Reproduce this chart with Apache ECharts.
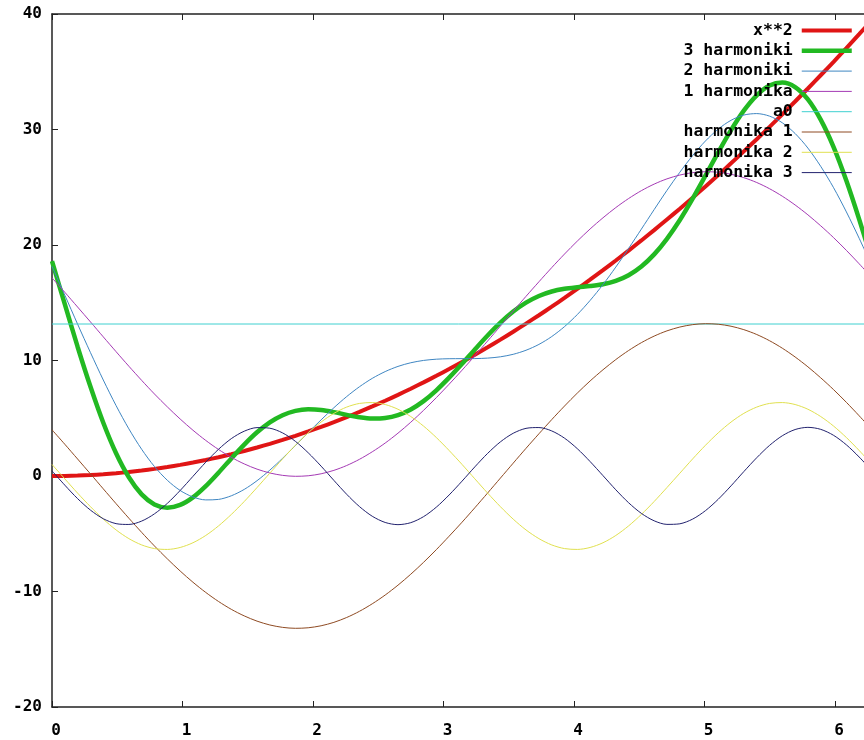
<!DOCTYPE html>
<html>
<head>
<meta charset="utf-8">
<script src="https://cdn.jsdelivr.net/npm/echarts@6/dist/echarts.min.js"></script>
<style>
  html, body { margin: 0; padding: 0; background: #ffffff; }
  #chart { width: 864px; height: 740px; }
</style>
</head>
<body>
<div id="chart"></div>
<script>
// x positions (0 .. 2*pi)
const xs = [0,0.098,0.196,0.295,0.393,0.491,0.589,0.687,0.785,0.884,0.982,1.080,1.178,1.276,1.374,1.473,1.571,1.669,1.767,1.865,1.963,2.062,2.160,2.258,2.356,2.454,2.553,2.651,2.749,2.847,2.945,3.043,3.142,3.240,3.338,3.436,3.534,3.632,3.731,3.829,3.927,4.025,4.123,4.222,4.320,4.418,4.516,4.614,4.712,4.811,4.909,5.007,5.105,5.203,5.301,5.400,5.498,5.596,5.694,5.792,5.890,5.989,6.087,6.185,6.283];
// x**2
const xSquared = [0,0.010,0.039,0.087,0.154,0.241,0.347,0.472,0.617,0.781,0.964,1.166,1.388,1.629,1.889,2.169,2.467,2.786,3.123,3.479,3.855,4.251,4.665,5.099,5.552,6.024,6.516,7.026,7.556,8.106,8.675,9.262,9.870,10.496,11.142,11.807,12.491,13.195,13.918,14.660,15.421,16.202,17.002,17.821,18.660,19.518,20.395,21.291,22.207,23.142,24.096,25.069,26.062,27.074,28.105,29.156,30.226,31.315,32.423,33.551,34.698,35.864,37.050,38.254,39.478];
// 3 harmoniki
const sum3 = [18.604,14.873,11.193,7.724,4.611,1.970,-0.113,-1.591,-2.457,-2.741,-2.507,-1.849,-0.877,0.287,1.523,2.719,3.782,4.644,5.265,5.634,5.769,5.713,5.530,5.293,5.081,4.969,5.018,5.276,5.765,6.486,7.417,8.513,9.715,10.956,12.165,13.276,14.237,15.012,15.588,15.976,16.210,16.345,16.451,16.608,16.896,17.387,18.139,19.187,20.537,22.165,24.015,26.004,28.022,29.943,31.634,32.961,33.804,34.066,33.676,32.603,30.854,28.477,25.559,22.220,18.604];
// 2 harmoniki
const sum2 = [18.160,15.664,13.151,10.680,8.310,6.095,4.082,2.312,0.819,-0.374,-1.254,-1.817,-2.069,-2.027,-1.713,-1.161,-0.407,0.507,1.535,2.633,3.755,4.860,5.911,6.876,7.729,8.453,9.040,9.488,9.805,10.006,10.113,10.154,10.160,10.166,10.207,10.320,10.537,10.887,11.393,12.072,12.934,13.978,15.198,16.576,18.088,19.701,21.375,23.066,24.726,26.302,27.745,29.005,30.036,30.796,31.252,31.378,31.157,30.581,29.654,28.391,26.814,24.957,22.863,20.579,18.160];
// 1 harmonika
const sum1 = [17.160,15.909,14.631,13.340,12.046,10.764,9.504,8.280,7.102,5.983,4.934,3.963,3.081,2.296,1.615,1.046,0.594,0.262,0.055,-0.027,0.019,0.192,0.489,0.908,1.446,2.096,2.852,3.708,4.655,5.684,6.785,7.947,9.160,10.411,11.688,12.979,14.273,15.555,16.815,18.039,19.217,20.336,21.386,22.356,23.238,24.023,24.704,25.273,25.726,26.057,26.265,26.346,26.300,26.127,25.830,25.411,24.874,24.223,23.467,22.611,21.664,20.635,19.534,18.372,17.160];
// a0
const a0X = [0, 6.283];
const a0Values = [13.16, 13.16];
// harmonika 1
const harm1 = [4,2.749,1.472,0.180,-1.113,-2.396,-3.655,-4.880,-6.057,-7.176,-8.226,-9.197,-10.079,-10.864,-11.544,-12.113,-12.566,-12.898,-13.105,-13.186,-13.140,-12.968,-12.671,-12.251,-11.714,-11.064,-10.307,-9.451,-8.504,-7.475,-6.375,-5.212,-4,-2.749,-1.472,-0.180,1.113,2.396,3.655,4.880,6.057,7.176,8.226,9.197,10.079,10.864,11.544,12.113,12.566,12.898,13.105,13.186,13.140,12.968,12.671,12.251,11.714,11.064,10.307,9.451,8.504,7.475,6.375,5.212,4];
// harmonika 2
const harm2 = [1,-0.245,-1.481,-2.659,-3.736,-4.669,-5.422,-5.967,-6.283,-6.358,-6.188,-5.780,-5.150,-4.322,-3.328,-2.207,-1,0.245,1.481,2.659,3.736,4.669,5.422,5.967,6.283,6.358,6.188,5.780,5.150,4.322,3.328,2.207,1,-0.245,-1.481,-2.659,-3.736,-4.669,-5.422,-5.967,-6.283,-6.358,-6.188,-5.780,-5.150,-4.322,-3.328,-2.207,-1,0.245,1.481,2.659,3.736,4.669,5.422,5.967,6.283,6.358,6.188,5.780,5.150,4.322,3.328,2.207,1];
// harmonika 3
const harm3 = [0.444,-0.791,-1.958,-2.956,-3.700,-4.125,-4.195,-3.904,-3.276,-2.367,-1.253,-0.032,1.192,2.314,3.236,3.879,4.189,4.137,3.730,3.001,2.014,0.853,-0.381,-1.583,-2.648,-3.485,-4.022,-4.212,-4.040,-3.520,-2.697,-1.641,-0.444,0.791,1.958,2.956,3.700,4.125,4.195,3.904,3.276,2.367,1.253,0.032,-1.192,-2.314,-3.236,-3.879,-4.189,-4.137,-3.730,-3.001,-2.014,-0.853,0.381,1.583,2.648,3.485,4.022,4.212,4.040,3.520,2.697,1.641,0.444];

const seriesNames = ['x**2', '3 harmoniki', '2 harmoniki', '1 harmonika', 'a0', 'harmonika 1', 'harmonika 2', 'harmonika 3'];
const xTickLabels = [0, 1, 2, 3, 4, 5, 6];
const yTickLabels = [-20, -10, 0, 10, 20, 30, 40];

const FONT = 'DejaVu Sans Mono';
const colors = ['#e01515', '#22b922', '#3f86c2', '#a43ab4', '#3fd0d0', '#8e4a22', '#e0e050', '#22226e'];
const widths = [4, 4.5, 1, 1, 1, 1, 1, 1];

function pairs(xv, yv) { return xv.map((x, i) => [x, yv[i]]); }

function lineSeries(i, xv, yv, smooth) {
  return {
    name: seriesNames[i],
    type: 'line',
    data: pairs(xv, yv),
    symbol: 'none',
    smooth: smooth,
    clip: true,
    lineStyle: { color: colors[i], width: widths[i] },
    itemStyle: { color: colors[i] },
    emphasis: { disabled: true }
  };
}

const chart = echarts.init(document.getElementById('chart'), null, { renderer: 'canvas' });

const axisLabelStyle = { fontFamily: FONT, fontWeight: 'bold', fontSize: 16, color: '#000' };
const axisLineStyle = { color: '#222', width: 1.5 };
const tickStyle = { color: '#222', width: 1 };

chart.setOption({
  animation: false,
  backgroundColor: '#ffffff',
  grid: { left: 52, width: 820, top: 14, bottom: 33, containLabel: false, outerBoundsMode: 'none' },
  legend: {
    orient: 'vertical',
    right: 10,
    top: 22,
    padding: 0,
    align: 'right',
    itemWidth: 50,
    itemHeight: 16,
    itemGap: 3.3,
    selectedMode: false,
    itemStyle: { opacity: 0 },
    data: seriesNames.map((n, i) => ({ name: n, lineStyle: { color: colors[i], width: widths[i] } })),
    textStyle: { fontFamily: FONT, fontWeight: 'bold', fontSize: 16.5, color: '#000', lineHeight: 16, padding: [0, 4, 0, 0] }
  },
  xAxis: [{
    type: 'value',
    min: 0,
    max: 6.2832,
    interval: 1,
    position: 'bottom',
    splitLine: { show: false },
    axisLine: { onZero: false, lineStyle: axisLineStyle },
    axisTick: { inside: true, length: 6, lineStyle: tickStyle },
    axisLabel: Object.assign({ margin: 16, showMaxLabel: false, padding: [0, 0, 0, 8],
      formatter: v => (xTickLabels.indexOf(Math.round(v)) >= 0 && Math.abs(v - Math.round(v)) < 1e-6) ? String(Math.round(v)) : '' }, axisLabelStyle)
  }, {
    type: 'value',
    min: 0,
    max: 6.2832,
    interval: 1,
    position: 'top',
    splitLine: { show: false },
    axisLine: { onZero: false, lineStyle: axisLineStyle },
    axisTick: { inside: true, length: 6, lineStyle: tickStyle },
    axisLabel: { show: false }
  }],
  yAxis: [{
    type: 'value',
    min: -20,
    max: 40,
    interval: 10,
    position: 'left',
    splitLine: { show: false },
    axisLine: { show: true, onZero: false, lineStyle: axisLineStyle },
    axisTick: { show: true, inside: true, length: 6, lineStyle: tickStyle },
    axisLabel: Object.assign({ margin: 10, formatter: v => yTickLabels.indexOf(v) >= 0 ? String(v) : '' }, axisLabelStyle)
  }],
  series: [
    lineSeries(0, xs, xSquared, 0.3),
    lineSeries(1, xs, sum3, 0.3),
    lineSeries(2, xs, sum2, 0.3),
    lineSeries(3, xs, sum1, 0.3),
    lineSeries(4, a0X, a0Values, false),
    lineSeries(5, xs, harm1, 0.3),
    lineSeries(6, xs, harm2, 0.3),
    lineSeries(7, xs, harm3, 0.3)
  ]
});
</script>
</body>
</html>
